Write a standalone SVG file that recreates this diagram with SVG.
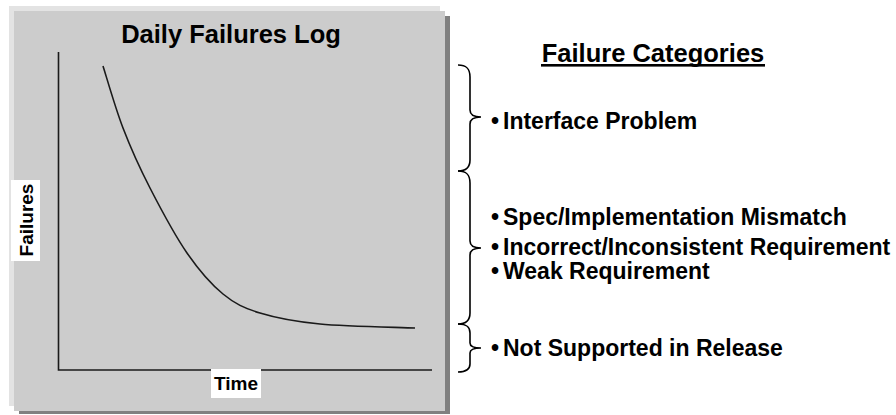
<svg xmlns="http://www.w3.org/2000/svg" width="896" height="415" viewBox="0 0 896 415">
<style>
  text { font-family: "Liberation Sans", Arial, sans-serif; font-weight: bold; fill: #000; }
  .item { font-size: 23px; }
  .axis { stroke: #1a1a1a; stroke-width: 1.6; fill: none; }
  .brace { stroke: #000; stroke-width: 1.6; fill: none; }
  .lbl { fill: #fff; }
</style>
<rect x="0" y="0" width="896" height="415" fill="#fff"/>
<g id="chart">
  <rect x="19" y="16" width="431" height="398" fill="#808080"/>
  <rect x="9" y="6" width="431" height="400" fill="#e3e3e3"/>
  <rect x="14" y="11" width="431" height="400" fill="#cccccc"/>
  <text x="231" y="43" font-size="25.5" text-anchor="middle">Daily Failures Log</text>
  <polyline class="axis" points="58.5,52 58.5,370 432,370"/>
  <path class="axis" d="M103,66 C106.3,76.3 115.2,107.7 123,128 C130.8,148.3 139.3,167.2 150,188 C160.7,208.8 174.8,235.3 187,253 C199.2,270.7 210.8,284 223,294 C235.2,304 243.8,308 260,313 C276.2,318 294.2,321.5 320,324 C345.8,326.5 399.2,327.3 415,328"/>
  <rect class="lbl" x="211" y="369" width="50" height="29"/>
  <text x="236" y="390" font-size="19" text-anchor="middle">Time</text>
  <rect class="lbl" x="11" y="180" width="29" height="81"/>
  <text transform="translate(33,220) rotate(-90)" font-size="19" text-anchor="middle">Failures</text>
</g>
<g id="categories">
  <text x="653" y="62" font-size="25.5" text-anchor="middle">Failure Categories</text>
  <rect x="541" y="64" width="224" height="2.6" fill="#000"/>
</g>
<g id="connectors">
  <path class="brace" d="M458,65 C467,65 470,69 470,77 L470,110 C470,115 474,117 481,117 C474,117 470,119 470,124 L470,160 C470,167 467,171 458,171"/>
  <path class="brace" d="M458,171 C467,171 470,175 470,183 L470,241 C470,246 474,248 481,248 C474,248 470,250 470,255 L470,313 C470,320 467,324 458,324"/>
  <path class="brace" d="M458,324 C467,324 470,327 470,333 L470,343 C470,346 474,348 481,348 C474,348 470,350 470,353 L470,364 C470,369 467,372 458,372"/>
</g>
<g id="item-interface">
  <text class="item" x="495" y="129" text-anchor="middle">•</text>
  <text class="item" x="503" y="129">Interface Problem</text>
</g>
<g id="item-spec">
  <text class="item" x="495" y="225" text-anchor="middle">•</text>
  <text class="item" x="503" y="225">Spec/Implementation Mismatch</text>
</g>
<g id="item-incorrect">
  <text class="item" x="495" y="255" text-anchor="middle">•</text>
  <text class="item" x="503" y="255">Incorrect/Inconsistent Requirement</text>
</g>
<g id="item-weak">
  <text class="item" x="495" y="279" text-anchor="middle">•</text>
  <text class="item" x="503" y="279">Weak Requirement</text>
</g>
<g id="item-notsupported">
  <text class="item" x="495" y="356" text-anchor="middle">•</text>
  <text class="item" x="503" y="356">Not Supported in Release</text>
</g>
</svg>
